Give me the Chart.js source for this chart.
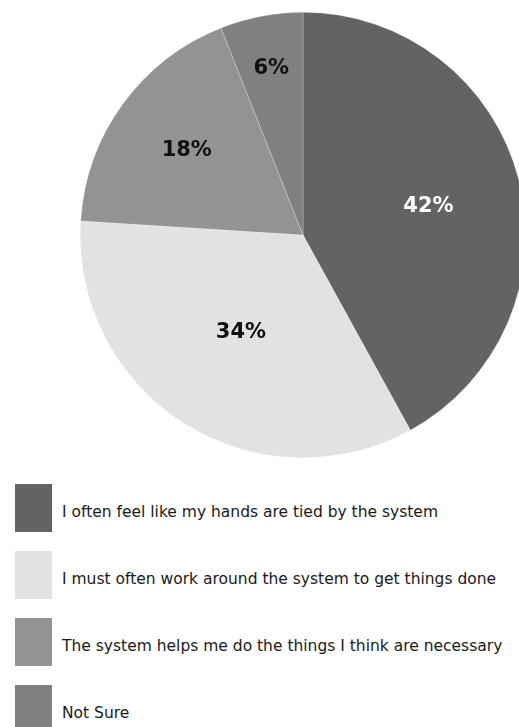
<!DOCTYPE html>
<html>
<head>
<meta charset="utf-8">
<script src="https://cdn.jsdelivr.net/npm/chart.js@4"></script>
<style>
  html, body { margin: 0; padding: 0; background: #fff; overflow: hidden; width: 519px; height: 727px; }
  #wrap { position: absolute; left: 0; top: 0; width: 606px; height: 470px; }
  #legend { position: absolute; left: 15px; top: 484px; font-family: "DejaVu Sans", sans-serif; font-size: 15.5px; color: #1a1a1a; }
  .item { display: flex; align-items: center; height: 48px; margin-bottom: 19px; }
  .item span { padding-top: 8px; white-space: nowrap; }
  .box { width: 37px; height: 48px; margin-right: 10px; flex: none; }
</style>
</head>
<body>
<div id="wrap"><canvas id="pieChart" width="606" height="470"></canvas></div>
<div id="legend"></div>
<script>
const categories = [
  'I often feel like my hands are tied by the system',
  'I must often work around the system to get things done',
  'The system helps me do the things I think are necessary',
  'Not Sure'
];
const percentages = [42, 34, 18, 6];
const sliceColors = ['#636365', '#e1e2e4', '#939395', '#808082'];
const labelColors = ['#ffffff', '#111111', '#111111', '#111111'];

// how far out (fraction of radius) each label sits, and a small angle nudge (rad)
const labelRadius = [0.578, 0.52, 0.645, 0.76];
const labelNudge = [0.025, 0, 0, 0];

const pctLabels = {
  id: 'pctLabels',
  afterDatasetsDraw(chart) {
    const ctx = chart.ctx;
    const meta = chart.getDatasetMeta(0);
    ctx.save();
    ctx.font = 'bold 21px "DejaVu Sans", sans-serif';
    ctx.textAlign = 'center';
    ctx.textBaseline = 'middle';
    meta.data.forEach((arc, i) => {
      const mid = (arc.startAngle + arc.endAngle) / 2 + labelNudge[i];
      const r = arc.outerRadius * labelRadius[i];
      ctx.fillStyle = labelColors[i];
      ctx.fillText(percentages[i] + '%', arc.x + Math.cos(mid) * r, arc.y + Math.sin(mid) * r);
    });
    ctx.restore();
  }
};

const ctx = document.getElementById('pieChart').getContext('2d');
const pieChart = new Chart(ctx, {
  type: 'pie',
  data: {
    labels: categories,
    datasets: [{
      data: percentages,
      backgroundColor: sliceColors,
      borderColor: 'rgba(255,255,255,0.5)',
      borderWidth: 0.5
    }]
  },
  options: {
    responsive: false,
    animation: false,
    layout: { padding: { top: 12, bottom: 12, left: 0, right: 0 } },
    plugins: {
      legend: { display: false },
      tooltip: { enabled: false }
    }
  },
  plugins: [pctLabels]
});

// legend built from the chart's own labels
const legendEl = document.getElementById('legend');
pieChart.options.plugins.legend.labels.generateLabels(pieChart).forEach(item => {
  const row = document.createElement('div');
  row.className = 'item';
  const box = document.createElement('div');
  box.className = 'box';
  box.style.background = item.fillStyle;
  const txt = document.createElement('span');
  txt.textContent = item.text;
  row.appendChild(box);
  row.appendChild(txt);
  legendEl.appendChild(row);
});
</script>
</body>
</html>
